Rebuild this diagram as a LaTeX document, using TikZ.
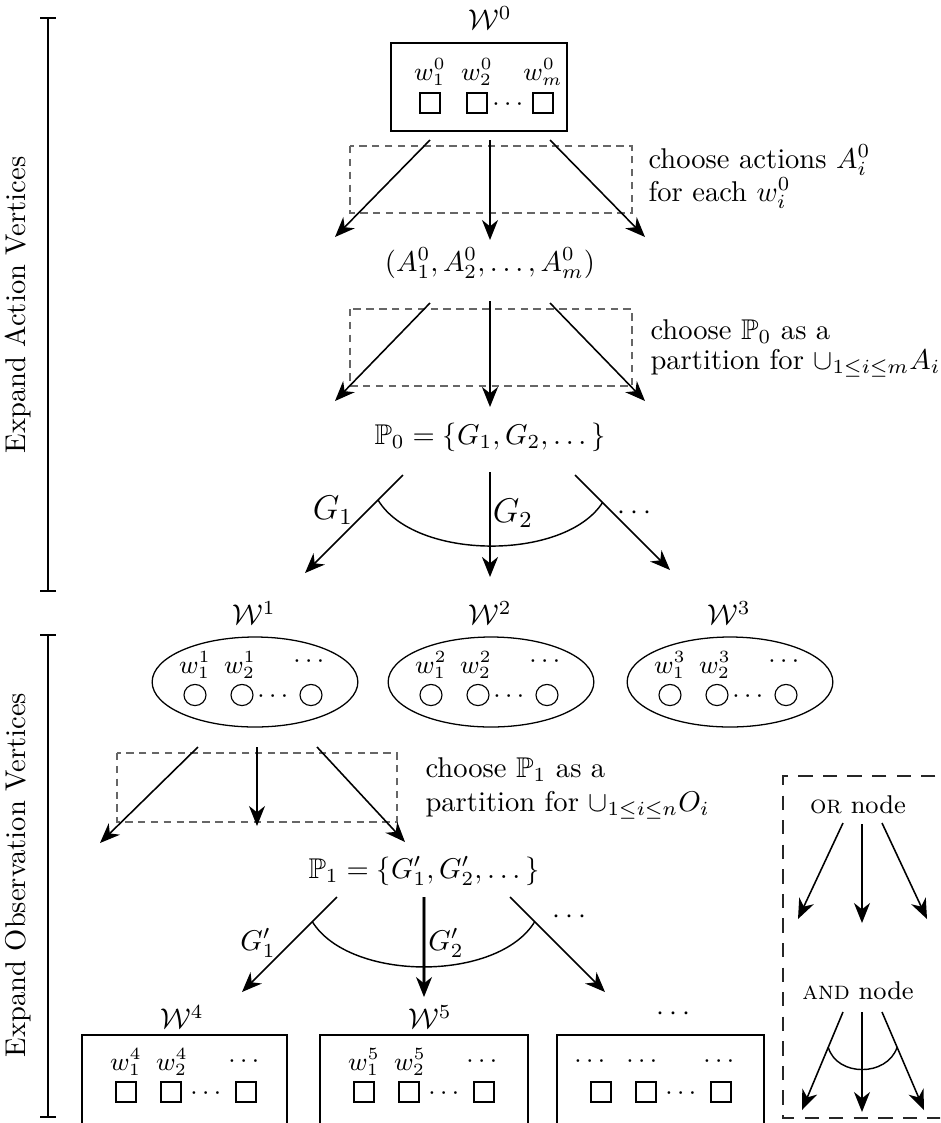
\documentclass[tikz,border=0pt]{standalone}
\usepackage{amsmath,amssymb}
\usetikzlibrary{arrows.meta,shapes.geometric,calc}
\begin{document}
\begin{tikzpicture}[x=0.35pt,y=-0.35pt,
 arr/.style={-{Stealth[length=7pt,width=5.6pt,inset=2.2pt]},line width=0.55pt},
 heavy/.style={arr,line width=0.9pt},
 grayline/.style={line width=1.4pt,draw=black!45},
 dbox/.style={draw=black!60,dash pattern=on 2.6pt off 1.9pt,line width=0.45pt},
 legendbox/.style={draw=black!85,dash pattern=on 5pt off 3.6pt,line width=0.5pt},
 frame/.style={draw,line width=0.45pt},
 sq/.style={draw,rectangle,minimum size=7pt,inner sep=0,line width=0.4pt},
 circ/.style={draw,ellipse,minimum width=7.7pt,minimum height=7.4pt,inner sep=0,line width=0.4pt},
 lbl/.style={inner sep=0},
 wl/.style={inner sep=0,font=\small},
 note/.style={anchor=base west,inner sep=0},
 bar/.style={{Bar[width=5.6pt]}-{Bar[width=5.6pt]},line width=0.6pt},
 andarc/.style={line width=0.5pt},
]
\path[use as bounding box,clip] (0,0) rectangle (940,1123);

% ---------- side bars ----------
\coordinate (b1t) at (48,17); \coordinate (b1b) at (48,592);
\draw[bar] (b1t) -- (b1b);
\node[rotate=90,lbl] (lab1) at (18,305) {Expand Action Vertices};
\coordinate (b2t) at (48,634); \coordinate (b2b) at (48,1118);
\draw[bar] (b2t) -- (b2b);
\node[rotate=90,lbl] (lab2) at (18,875) {Expand Observation Vertices};

% ---------- W^0 ----------
\node[lbl] (W0) at (490,18) {$\mathcal{W}^0$};
\draw[frame] (391,43) rectangle (567,131);
\node[wl] (w01) at (430,72) {$w_1^0$};
\node[wl] (w02) at (477,72) {$w_2^0$};
\node[wl] (w0m) at (543,72) {$w_m^0$};
\node[sq] (s01) at (430,103) {};
\node[sq] (s02) at (477,103) {};
\node[sq] (s0m) at (543,103) {};
\node[wl] (d0) at (510,105) {$\cdots$};

% ---------- group 1 ----------
\coordinate (g1s1) at (430,140); \coordinate (g1s2) at (490,140); \coordinate (g1s3) at (550,140);
\coordinate (g1e1) at (335,237); \coordinate (g1e2) at (490,240); \coordinate (g1e3) at (645,237);
\draw[dbox] (350,146) rectangle (632,213);
\draw[arr] (g1s1) -- (g1e1);
\draw[arr] (g1s2) -- (g1e2);
\draw[arr] (g1s3) -- (g1e3);
\node[note] (c1a) at (648,168) {choose actions $A_i^0$};
\node[note] (c1b) at (648,201) {for each $w_i^0$};

\node[lbl] (tup) at (490,263) {$(A_1^0,A_2^0,\dots,A_m^0)$};

% ---------- group 2 ----------
\coordinate (g2s1) at (430,303); \coordinate (g2s2) at (490,301); \coordinate (g2s3) at (550,303);
\coordinate (g2e1) at (335,401); \coordinate (g2e2) at (490,407); \coordinate (g2e3) at (645,401);
\draw[dbox] (350,309) rectangle (632,386);
\draw[arr] (g2s1) -- (g2e1);
\draw[heavy] (g2s2) -- (g2e2);
\draw[arr] (g2s3) -- (g2e3);
\node[note] (c2a) at (650,339) {choose $\mathbb{P}_0$ as a};
\node[note] (c2b) at (650,369) {partition for $\cup_{1\le i\le m}A_i$};

\node[lbl] (P0) at (490,437) {$\mathbb{P}_0=\{G_1,G_2,\dots\}$};

% ---------- group 3 (AND) ----------
\coordinate (g3s1) at (403,475); \coordinate (g3s2) at (490,472); \coordinate (g3s3) at (575,475);
\coordinate (g3e1) at (305,573); \coordinate (g3e2) at (490,577); \coordinate (g3e3) at (670,570);
\draw[arr] (g3s1) -- (g3e1);
\draw[heavy] (g3s2) -- (g3e2);
\draw[arr] (g3s3) -- (g3e3);
\path (g3s1) -- (g3e1) coordinate[pos=0.255] (a3l);
\path (g3s3) -- (g3e3) coordinate[pos=0.29] (a3r);
\draw[andarc] (a3l) .. controls (415,561) and (565,561) .. (a3r);
\node[lbl,font=\large] (G1) at (333,510) {$G_1$};
\node[lbl,font=\large] (G2) at (513,513) {$G_2$};
\node[lbl] (G3) at (637,513) {$\cdots$};

% ---------- W^1..W^3 ----------
\foreach \i/\x in {1/255,2/491,3/730}{
  \node[lbl] (W\i) at (\x-1,613) {$\mathcal{W}^{\i}$};
  \draw[frame] (\x,682) ellipse [x radius=36pt, y radius=15.75pt];
  \node[wl] (e\i a) at (\x-60,665) {$w_1^{\i}$};
  \node[wl] (e\i b) at (\x-15,665) {$w_2^{\i}$};
  \node[wl] (e\i c) at (\x+56,662) {$\cdots$};
  \node[circ] (o\i a) at (\x-60,695) {};
  \node[circ] (o\i b) at (\x-13,695) {};
  \node[circ] (o\i c) at (\x+56,695) {};
  \node[wl] (o\i d) at (\x+20,697) {$\cdots$};
}

% ---------- group 4 ----------
\coordinate (g4s1) at (198,747); \coordinate (g4s2) at (257,747); \coordinate (g4s3) at (317,747);
\coordinate (g4e1) at (100,843); \coordinate (g4e2) at (257,826); \coordinate (g4e3) at (405,842);
\draw[dbox] (117,753) rectangle (397,822);
\draw[arr] (g4s1) -- (g4e1);
\draw[arr] (g4s2) -- (g4e2);
\draw[arr] (g4s3) -- (g4e3);
\node[note] (c4a) at (425,777) {choose $\mathbb{P}_1$ as a};
\node[note] (c4b) at (425,811) {partition for $\cup_{1\le i\le n}O_i$};

\node[lbl] (P1) at (424,871) {$\mathbb{P}_1=\{G'_1,G'_2,\dots\}$};

% ---------- group 5 (AND) ----------
\coordinate (g5s1) at (337,897); \coordinate (g5s2) at (424,897); \coordinate (g5s3) at (510,897);
\coordinate (g5e1) at (242,992); \coordinate (g5e2) at (424,997); \coordinate (g5e3) at (605,992);
\coordinate (g5m) at (424,985);
\draw[arr] (g5s1) -- (g5e1);
\draw[grayline] (g5s2) -- (g5m);
\draw[arr] (g5s2) -- (g5e2);
\draw[arr] (g5s3) -- (g5e3);
\path (g5s1) -- (g5e1) coordinate[pos=0.26] (a5l);
\path (g5s3) -- (g5e3) coordinate[pos=0.26] (a5r);
\draw[andarc] (a5l) .. controls (350,982) and (498,982) .. (a5r);
\node[lbl] (H1) at (258,943) {$G'_1$};
\node[lbl] (H2) at (446,943) {$G'_2$};
\node[lbl] (H3) at (572,917) {$\cdots$};

% ---------- W^4, W^5, ... ----------
\node[lbl] (W4) at (182,1017) {$\mathcal{W}^4$};
\node[lbl] (W5) at (430,1017) {$\mathcal{W}^5$};
\node[lbl] (W6) at (676,1014) {$\cdots$};
\draw[frame] (82,1035) rectangle (287,1160);
\draw[frame] (320,1035) rectangle (528,1160);
\draw[frame] (557,1035) rectangle (764,1160);
\foreach \i/\x in {4/126,5/364}{
  \node[wl] (t\i a) at (\x,1062) {$w_1^{\i}$};
  \node[wl] (t\i b) at (\x+46,1062) {$w_2^{\i}$};
  \node[wl] (t\i c) at (\x+120,1062) {$\cdots$};
}
\node[wl] (t6a) at (592,1062) {$\cdots$};
\node[wl] (t6b) at (644,1062) {$\cdots$};
\node[wl] (t6c) at (721,1062) {$\cdots$};
\foreach \i/\x in {4/126,5/364,6/601}{
  \node[sq] (q\i a) at (\x,1092) {};
  \node[sq] (q\i b) at (\x+45,1092) {};
  \node[sq] (q\i c) at (\x+120,1092) {};
  \node[wl] (q\i d) at (\x+82,1094) {$\cdots$};
}

% ---------- legend ----------
\draw[legendbox] (960,776) -- (783,776) -- (783,1118) -- (960,1118);
\node[lbl,font=\small] (orn) at (858,805) {\textsc{or} node};
\coordinate (ls1) at (843,823); \coordinate (ls2) at (862,824); \coordinate (ls3) at (882,823);
\coordinate (le1) at (798,919); \coordinate (le2) at (862,923); \coordinate (le3) at (927,919);
\draw[arr] (ls1) -- (le1);
\draw[arr] (ls2) -- (le2);
\draw[arr] (ls3) -- (le3);
\node[lbl,font=\small] (andn) at (858,991) {\textsc{and} node};
\coordinate (ms1) at (843,1012); \coordinate (ms2) at (862,1012); \coordinate (ms3) at (882,1012);
\coordinate (me1) at (802,1110); \coordinate (me2) at (862,1112); \coordinate (me3) at (924,1110);
\draw[arr] (ms1) -- (me1);
\draw[arr] (ms2) -- (me2);
\draw[arr] (ms3) -- (me3);
\path (ms1) -- (me1) coordinate[pos=0.36] (all);
\path (ms3) -- (me3) coordinate[pos=0.36] (alr);
\draw[andarc] (all) .. controls (837,1077) and (887,1077) .. (alr);
\end{tikzpicture}
\end{document}
